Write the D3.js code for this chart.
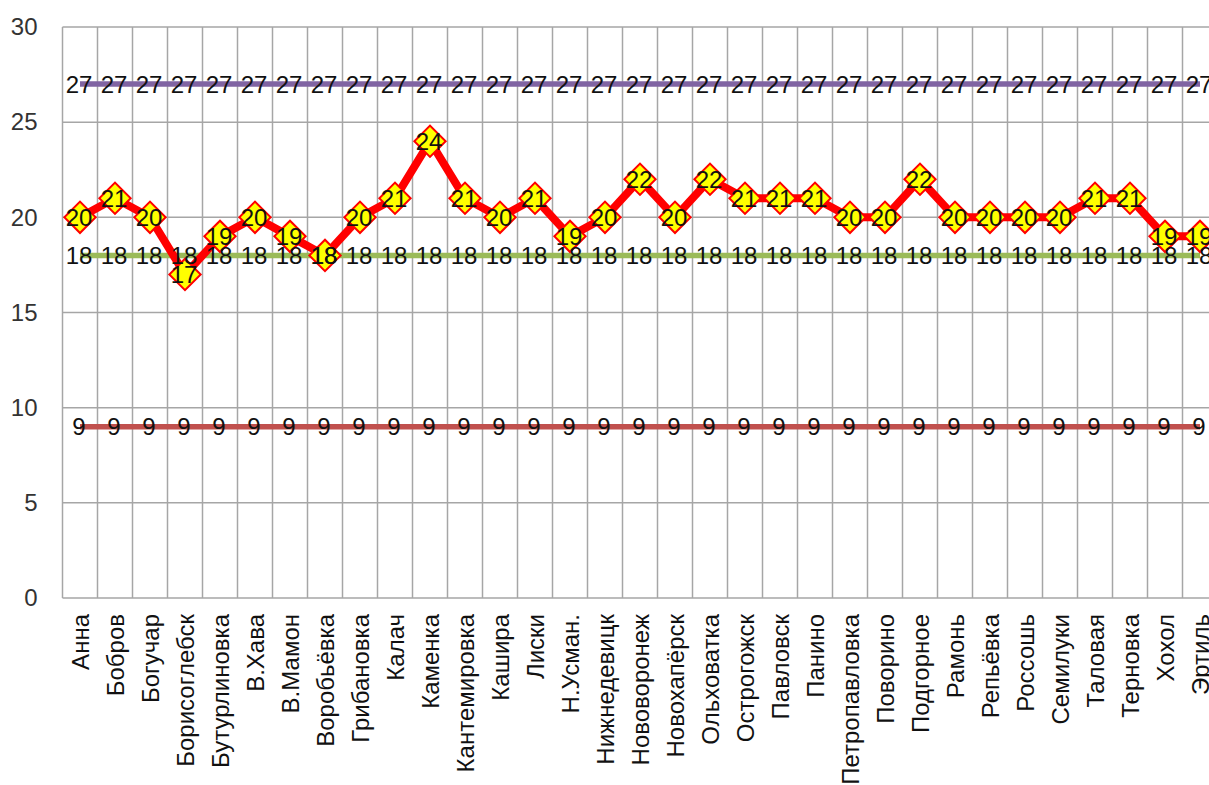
<!DOCTYPE html>
<html>
<head>
<meta charset="utf-8">
<script src="https://cdn.jsdelivr.net/npm/d3@7"></script>
<style>
  html, body { margin: 0; padding: 0; background: #fff; overflow: hidden; }
  svg { display: block; }
</style>
</head>
<body>
<svg id="chart" width="1209" height="785"></svg>
<script>
// Districts along the category axis
const categories = ["Анна","Бобров","Богучар","Борисоглебск","Бутурлиновка","В.Хава","В.Мамон","Воробьёвка","Грибановка","Калач","Каменка","Кантемировка","Кашира","Лиски","Н.Усман.","Нижнедевицк","Нововоронеж","Новохапёрск","Ольховатка","Острогожск","Павловск","Панино","Петропавловка","Поворино","Подгорное","Рамонь","Репьёвка","Россошь","Семилуки","Таловая","Терновка","Хохол","Эртиль"];

// Main series: district scores
const scores = [20,21,20,17,19,20,19,18,20,21,24,21,20,21,19,20,22,20,22,21,21,21,20,20,22,20,20,20,20,21,21,19,19];

// Reference levels, one value per district
const upperLevel = categories.map(() => 27);
const middleLevel = categories.map(() => 18);
const lowerLevel = categories.map(() => 9);

const yTicks = [0, 5, 10, 15, 20, 25, 30];

const svg = d3.select("#chart");
const plotLeft = 62.5, plotRight = 1217.5, plotTop = 27, plotBottom = 598;

const x = d3.scaleBand().domain(categories).range([plotLeft, plotRight]).paddingInner(0).paddingOuter(0);
const y = d3.scaleLinear().domain([0, 30]).range([plotBottom, plotTop]);
const cx = c => x(c) + x.bandwidth() / 2;

// Grid
const grid = svg.append("g").attr("stroke", "#a6a6a6").attr("stroke-width", 1.5);
grid.selectAll("line.h").data(yTicks).join("line").attr("class", "h")
  .attr("x1", plotLeft).attr("x2", plotRight).attr("y1", d => y(d)).attr("y2", d => y(d));
grid.selectAll("line.v").data(categories.map(c => x(c)).concat([plotRight])).join("line").attr("class", "v")
  .attr("x1", d => d).attr("x2", d => d).attr("y1", plotTop).attr("y2", plotBottom);

// Y axis labels
const yAxis = svg.append("g").attr("transform", `translate(${plotLeft},0)`)
  .call(d3.axisLeft(y).tickValues(yTicks).tickSize(0).tickPadding(25));
yAxis.select(".domain").remove();
yAxis.selectAll("text").attr("font-family", "'Liberation Sans', Arial, sans-serif")
  .attr("font-size", 24).attr("fill", "#333");

// X axis labels, rotated
const xAxis = svg.append("g").attr("transform", `translate(0,${plotBottom})`)
  .call(d3.axisBottom(x).tickSize(0));
xAxis.select(".domain").remove();
xAxis.selectAll("text")
  .attr("font-family", "'Liberation Sans', Arial, sans-serif")
  .attr("font-size", 24).attr("fill", "#111")
  .attr("text-anchor", "end")
  .attr("dy", null)
  .attr("transform", "translate(9,16) rotate(-90)")
  .attr("x", 0).attr("y", 0);

const line = d3.line().x((d, i) => cx(categories[i])).y(d => y(d));

// Reference lines
const refs = [
  { values: upperLevel, color: "#8064a2" },
  { values: middleLevel, color: "#9bbb59" },
  { values: lowerLevel, color: "#c0504d" }
];
refs.forEach(r => {
  svg.append("path").datum(r.values).attr("d", line)
    .attr("fill", "none").attr("stroke", r.color).attr("stroke-width", 5.5);
});

// Main series line and diamond markers
svg.append("path").datum(scores).attr("d", line)
  .attr("fill", "none").attr("stroke", "#ff0000").attr("stroke-width", 8).attr("stroke-linejoin", "round");

const diamond = d3.symbol().type(d3.symbolSquare).size(490);
svg.append("g").selectAll("path").data(scores).join("path")
  .attr("d", diamond)
  .attr("transform", (d, i) => `translate(${cx(categories[i])},${y(d)}) rotate(45)`)
  .attr("fill", "#ffff00").attr("stroke", "#ff0000").attr("stroke-width", 2);

// Value labels
const labelFont = "'Liberation Sans Narrow', 'Liberation Sans', Arial, sans-serif";
[upperLevel, middleLevel, lowerLevel, scores].forEach(vals => {
  svg.append("g").selectAll("text").data(vals).join("text")
    .attr("x", (d, i) => cx(categories[i]) - 1)
    .attr("y", d => y(d))
    .attr("dy", "0.36em")
    .attr("text-anchor", "middle")
    .attr("font-family", labelFont)
    .attr("font-size", 24)
    .attr("fill", "#111")
    .text(d => d);
});
</script>
</body>
</html>
